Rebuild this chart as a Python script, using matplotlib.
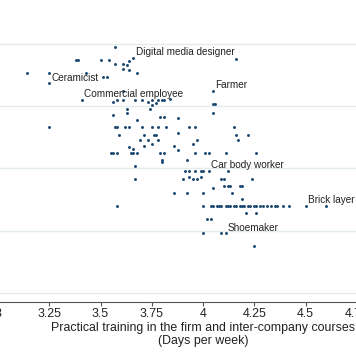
import matplotlib
matplotlib.use('Agg')
import matplotlib.pyplot as plt
from matplotlib.ticker import FormatStrFormatter

plt.rcParams['font.family'] = ['Liberation Sans', 'DejaVu Sans']

# practical training days per week (x) and y-variable per occupation
x_days = [
    3.57, 3.38, 3.39, 3.50, 3.54, 3.64, 3.57, 3.61, 3.63, 3.61, 3.64, 3.68,
    4.16, 3.14, 3.25, 3.43, 3.51, 3.53, 3.61,
    3.56, 3.58, 3.61, 3.67, 3.70, 3.73, 3.75, 3.77, 3.78, 3.80, 3.81, 3.84,
    3.75, 3.74, 4.05, 4.06, 4.05, 3.63, 3.63, 3.56, 3.68, 3.79, 3.81, 3.88,
    3.25, 3.57, 3.58, 3.62, 3.64, 3.70, 3.75, 3.78, 3.82, 3.93, 3.96, 4.15,
    3.88, 3.59, 3.71, 3.76, 3.77, 4.16, 4.22,
    3.69, 3.73, 3.78, 3.97, 4.17, 3.95, 3.64, 3.66, 3.71, 3.75, 3.86, 3.88,
    3.55, 3.56, 3.58, 3.65, 3.66, 3.68, 3.79, 3.81, 3.96, 4.01, 4.03, 4.11, 4.26,
    3.80, 3.80, 3.92, 3.67, 3.67,
    3.91, 3.93, 3.96, 3.99, 4.00, 4.12, 3.93, 3.99, 3.90, 3.95, 3.97, 4.09, 4.10, 4.24,
    4.05, 4.10, 4.12, 4.13, 4.18, 4.19, 3.86, 3.92, 4.00, 4.14, 4.19,
    3.58, 4.00,
    4.04, 4.05, 4.07, 4.08, 4.09, 4.11, 4.12, 4.13, 4.15, 4.16, 4.18, 4.19,
    4.20, 4.22, 4.23, 4.25, 4.26, 4.28, 4.29, 4.31, 4.33, 4.35, 4.36,
    4.39, 4.42, 4.60,
    4.21, 4.26, 4.02, 4.04, 4.00, 4.09, 4.25,
]
y_vals = [
    3.95, 3.74, 3.74, 3.74, 3.74, 3.73, 3.68, 3.68, 3.66, 3.60, 3.58, 3.53,
    3.76, 3.53, 3.53, 3.53, 3.47, 3.47, 3.25,
    3.07, 3.10, 3.10, 3.10, 3.10, 3.07, 3.10, 3.05, 3.10, 3.10, 3.10, 3.12,
    3.02, 2.96, 3.04, 3.04, 2.89, 2.96, 2.89, 2.86, 2.78, 2.83, 2.83, 2.81,
    2.67, 2.67, 2.67, 2.67, 2.67, 2.67, 2.67, 2.67, 2.67, 2.67, 2.67, 2.67,
    2.57, 2.54, 2.54, 2.54, 2.54, 2.54, 2.54,
    2.46, 2.46, 2.46, 2.46, 2.46, 2.39, 2.35, 2.31, 2.36, 2.39, 2.36, 2.30,
    2.25, 2.25, 2.25, 2.25, 2.25, 2.25, 2.25, 2.25, 2.25, 2.25, 2.25, 2.25, 2.25,
    2.14, 2.10, 2.14, 2.04, 1.83,
    1.96, 1.96, 1.96, 1.96, 1.96, 1.96, 1.86, 1.86, 1.83, 1.83, 1.83, 1.83, 1.83, 1.83,
    1.69, 1.72, 1.72, 1.72, 1.72, 1.72, 1.61, 1.61, 1.61, 1.61, 1.51,
    1.40, 1.40,
    1.40, 1.40, 1.40, 1.40, 1.40, 1.40, 1.40, 1.40, 1.40, 1.40, 1.40, 1.40,
    1.40, 1.40, 1.40, 1.40, 1.40, 1.40, 1.40, 1.40, 1.40, 1.40, 1.40,
    1.40, 1.40, 1.40,
    1.29, 1.29, 1.19, 1.19, 0.96, 0.96, 0.76,
]

# labelled occupations
label_names = ['Digital media designer', 'Ceramicist', 'Commercial employee',
               'Farmer', 'Car body worker', 'Brick layer', 'Shoemaker']
label_x = [3.66, 3.25, 3.41, 4.05, 4.03, 4.50, 4.11]
label_y = [3.78, 3.37, 3.10, 3.25, 1.96, 1.40, 0.96]

x_ticks = [3, 3.25, 3.5, 3.75, 4, 4.25, 4.5, 4.75, 5]
y_grid = [0, 1, 2, 3, 4]

W, H = 356, 364
fig = plt.figure(figsize=(W / 100, H / 100), dpi=100)
# plot region is wider than the picture (cropped Stata graph)
ax = fig.add_axes([-8.1 / W, 62 / H, 422.3 / W, 276.7 / H])

ax.scatter(x_days + label_x, y_vals + label_y, s=4.5, color='#1a476f',
           linewidths=0, zorder=3)

for name, lx, ly in zip(label_names, label_x, label_y):
    ax.annotate(name, (lx, ly), xytext=(1.6, 4), textcoords='offset points',
                fontsize=7.2, color='#222222', ha='left', va='center', zorder=4)

ax.set_xlim(2.97, 5.03)
ax.set_ylim(-0.145, 4.3)

ax.set_xticks(x_ticks)
ax.xaxis.set_major_formatter(FormatStrFormatter('%g'))
ax.set_yticks(y_grid)
ax.set_yticklabels([])
ax.tick_params(axis='y', length=0)
ax.tick_params(axis='x', direction='out', length=3, width=0.8, pad=1.5,
               color='#555555', labelsize=8.9, labelcolor='#222222')

ax.grid(axis='y', color='#e4ecee', linewidth=1.0)
ax.set_axisbelow(True)

for side in ['left', 'right', 'top']:
    ax.spines[side].set_visible(False)
ax.spines['bottom'].set_color('#555555')
ax.spines['bottom'].set_linewidth(0.8)

ax.set_xlabel('Practical training in the firm and inter-company courses\n(Days per week)',
              fontsize=8.9, color='#222222', labelpad=1.5, linespacing=1.1)

fig.savefig('out.png', dpi=100)
plt.close(fig)
